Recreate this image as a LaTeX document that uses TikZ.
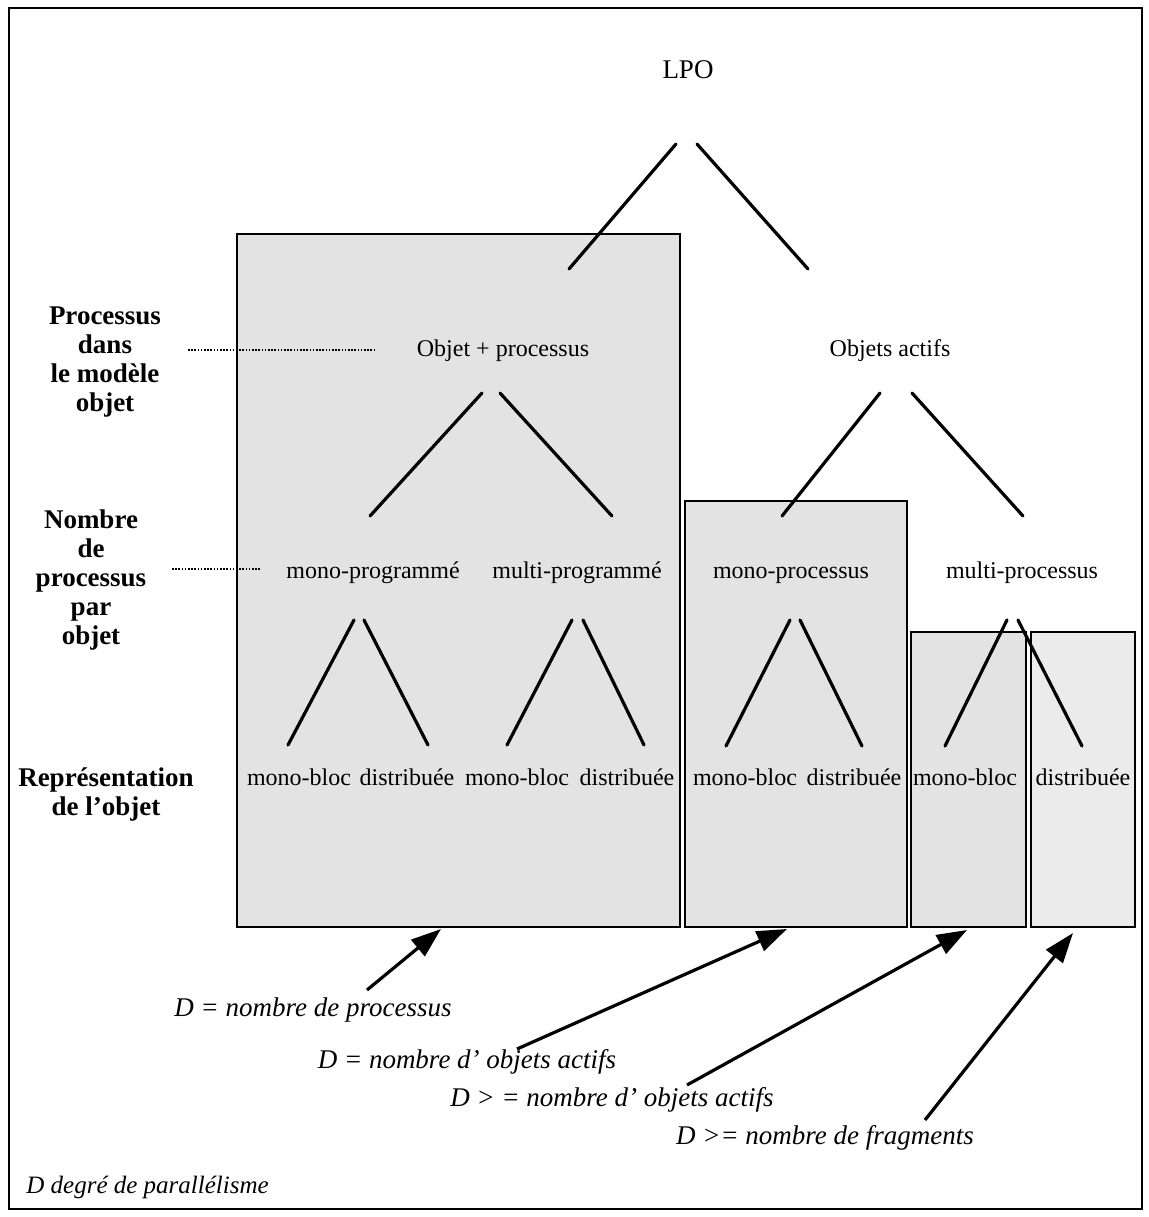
\documentclass[tikz,border=0pt]{standalone}
\usepackage{fontspec}
\setmainfont{Liberation Serif}
\usetikzlibrary{arrows.meta}
\begin{document}
\begin{tikzpicture}[x=0.5pt,y=-0.5pt,
  panel/.style={draw=black,line width=1.4pt,fill=black!11},
  branch/.style={line width=1.6pt,line cap=round},
  lbl/.style={font=\fontsize{12}{14}\selectfont,inner sep=0pt,text height=8.5pt,text depth=2.5pt},
  toplbl/.style={font=\fontsize{13.5}{16}\selectfont,inner sep=0pt},
  axis/.style={font=\fontsize{13.5}{14.5}\selectfont\bfseries,align=center,inner sep=0pt},
  note/.style={font=\fontsize{13.5}{16}\selectfont\itshape,inner sep=0pt},
  guide/.style={line width=0.8pt,dash pattern=on 0.8pt off 0.8pt},
  ptr/.style={line width=1.6pt,-{Triangle[length=15pt,width=10.5pt]}}]
\useasboundingbox (0,0) rectangle (1149,1217);

% outer frame
\draw[line width=1.2pt] (9,8) rectangle (1142,1209);

% shaded groups
\path[panel] (237,234) rectangle (680,927);
\path[panel] (685,501) rectangle (907,927);
\path[panel] (911,632) rectangle (1026,927);
\path[panel,fill=black!8] (1031,632) rectangle (1135,927);

% axis labels on the left
\node[axis] (axA) at (105,362) {Processus\\dans\\le modèle\\objet};
\node[axis] (axB) at (91,580) {Nombre\\de\\processus\\par\\objet};
\node[axis] (axC) at (106,794) {Représentation\\de l’objet};

% tree labels
\node[toplbl] (lpo) at (688,70) {LPO};
\node[lbl] (op) at (503,350) {Objet + processus};
\node[lbl] (oa) at (890,350) {Objets actifs};
\node[lbl] (monoprog) at (373,572) {mono-programmé};
\node[lbl] (multiprog) at (577,572) {multi-programmé};
\node[lbl] (monoproc) at (791,572) {mono-processus};
\node[lbl] (multiproc) at (1022,572) {multi-processus};
\node[lbl] (b1) at (299,779) {mono-bloc};
\node[lbl] (d1) at (407,779) {distribuée};
\node[lbl] (b2) at (517,779) {mono-bloc};
\node[lbl] (d2) at (627,779) {distribuée};
\node[lbl] (b3) at (745,779) {mono-bloc};
\node[lbl] (d3) at (854,779) {distribuée};
\node[lbl] (b4) at (965,779) {mono-bloc};
\node[lbl] (d4) at (1083,779) {distribuée};

% dotted guides from axis labels
\coordinate (gA1) at (188,350);
\coordinate (gA2) at (375,350);
\coordinate (gB1) at (172,569);
\coordinate (gB2) at (260,569);
\draw[guide] (gA1) -- (gA2);
\draw[guide] (gB1) -- (gB2);

% branch end points
\coordinate (lpoL) at (676,144);  \coordinate (opT) at (569,269);
\coordinate (lpoR) at (697,144);  \coordinate (oaT) at (808,269);
\coordinate (opL) at (482,393);   \coordinate (mpgT) at (370,516);
\coordinate (opR) at (500,393);   \coordinate (mlgT) at (612,516);
\coordinate (oaL) at (880,393);   \coordinate (mpcT) at (782,516);
\coordinate (oaR) at (912,393);   \coordinate (mlcT) at (1023,516);
\coordinate (mpgL) at (354,620);  \coordinate (b1T) at (288,745);
\coordinate (mpgR) at (364,620);  \coordinate (d1T) at (428,745);
\coordinate (mlgL) at (572,620);  \coordinate (b2T) at (507,745);
\coordinate (mlgR) at (583,620);  \coordinate (d2T) at (644,745);
\coordinate (mpcL) at (790,620);  \coordinate (b3T) at (726,746);
\coordinate (mpcR) at (800,620);  \coordinate (d3T) at (862,746);
\coordinate (mlcL) at (1007,620); \coordinate (b4T) at (945,746);
\coordinate (mlcR) at (1018,620); \coordinate (d4T) at (1082,746);

% tree branches
\draw[branch] (lpoL) -- (opT);
\draw[branch] (lpoR) -- (oaT);
\draw[branch] (opL) -- (mpgT);
\draw[branch] (opR) -- (mlgT);
\draw[branch] (oaL) -- (mpcT);
\draw[branch] (oaR) -- (mlcT);
\draw[branch] (mpgL) -- (b1T);
\draw[branch] (mpgR) -- (d1T);
\draw[branch] (mlgL) -- (b2T);
\draw[branch] (mlgR) -- (d2T);
\draw[branch] (mpcL) -- (b3T);
\draw[branch] (mpcR) -- (d3T);
\draw[branch] (mlcL) -- (b4T);
\draw[branch] (mlcR) -- (d4T);

% degree of parallelism notes
\node[note] (n1) at (313,1010) {D = nombre de processus};
\node[note] (n2) at (467,1062) {D = nombre d’ objets actifs};
\node[note] (n3) at (612,1100) {D > = nombre d’ objets actifs};
\node[note] (n4) at (825,1138) {D >= nombre de fragments};
\node[note,anchor=west,font=\fontsize{12.5}{15}\selectfont\itshape] (legend) at (26,1187) {D degré de parallélisme};

\coordinate (t1) at (367,990);  \coordinate (h1) at (441,929);
\coordinate (t2) at (517,1049); \coordinate (h2) at (787,929);
\coordinate (t3) at (687,1085); \coordinate (h3) at (967,930);
\coordinate (t4) at (925,1120); \coordinate (h4) at (1073,933);
\draw[ptr] (t1) -- (h1);
\draw[ptr] (t2) -- (h2);
\draw[ptr] (t3) -- (h3);
\draw[ptr] (t4) -- (h4);
\end{tikzpicture}
\end{document}
